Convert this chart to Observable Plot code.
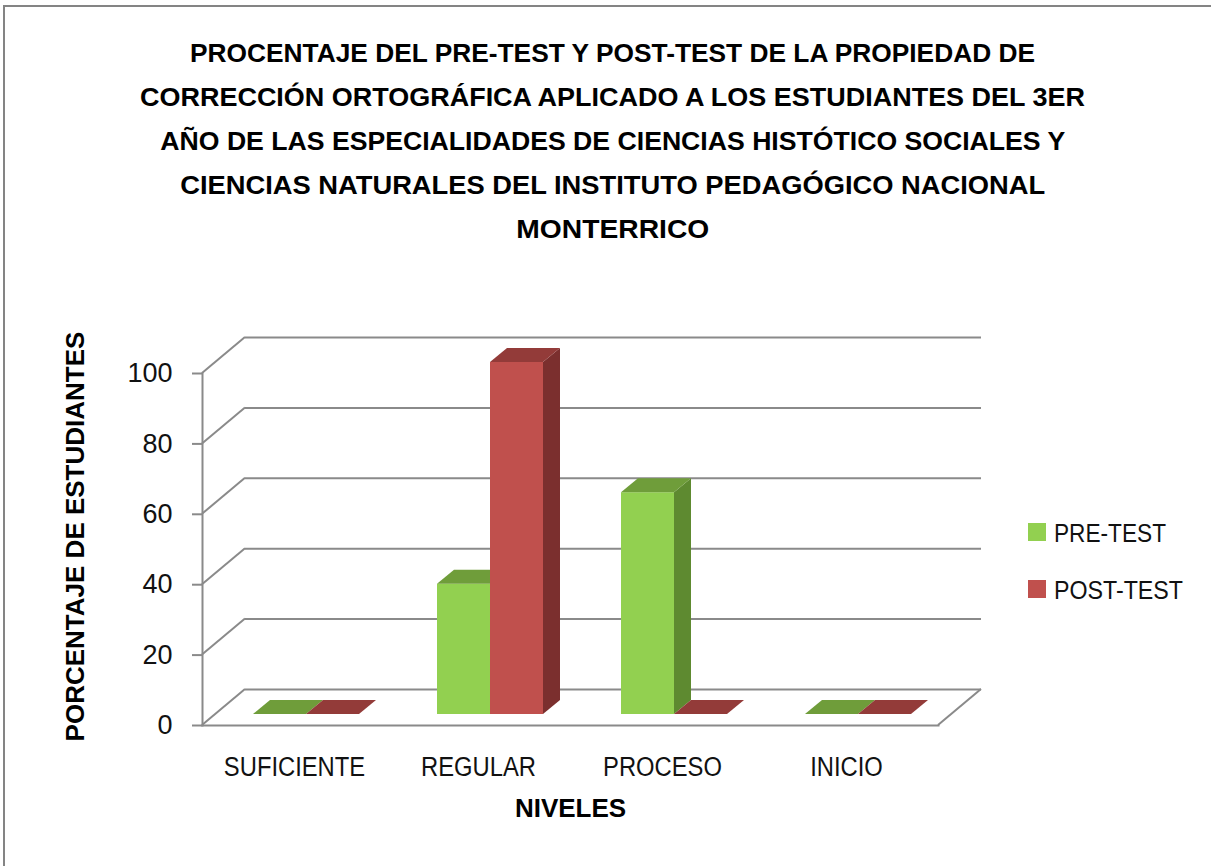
<!DOCTYPE html>
<html>
<head>
<meta charset="utf-8">
<script src="https://cdn.jsdelivr.net/npm/d3@7"></script>
<script src="https://cdn.jsdelivr.net/npm/@observablehq/plot@0.6"></script>
<style>
  html, body { margin: 0; padding: 0; background: #fff; }
  #wrap { position: relative; width: 1211px; height: 866px; overflow: hidden; font-family: "Liberation Sans", Arial, sans-serif; color: #111; }
  #border { position: absolute; left: 3px; top: 5px; width: 1400px; height: 1000px; border-top: 2px solid #848484; border-left: 2px solid #848484; }
  #title { position: absolute; left: 0; top: 31px; width: 1226px; text-align: center; font-weight: bold; font-size: 26px; line-height: 44px; color: #000; }
  #title div { white-space: nowrap; }
  #title span { display: inline-block; transform-origin: 50% 50%; }
  #chart { position: absolute; left: 0; top: 0; }
  .leg { position: absolute; left: 1028px; height: 26px; white-space: nowrap; }
  .leg i { position: absolute; left: 0; top: 3px; width: 18px; height: 18px; }
  .leg span { position: absolute; left: 26px; top: 0; font-size: 26px; line-height: 26px; display: inline-block; transform-origin: 0 50%; color: #111; }
</style>
</head>
<body>
<div id="wrap">
  <div id="border"></div>
  <div id="title"></div>
  <div id="chart"></div>
  <div id="legend"></div>
</div>
<script>
// ---- data ----
const titleLines = [
  "PROCENTAJE DEL PRE-TEST Y POST-TEST DE LA PROPIEDAD DE",
  "CORRECCIÓN ORTOGRÁFICA APLICADO A LOS ESTUDIANTES DEL 3ER",
  "AÑO DE LAS ESPECIALIDADES DE CIENCIAS HISTÓTICO SOCIALES Y",
  "CIENCIAS NATURALES DEL INSTITUTO PEDAGÓGICO NACIONAL",
  "MONTERRICO"
];
const categories = ["SUFICIENTE", "REGULAR", "PROCESO", "INICIO"];
const seriesNames = ["PRE-TEST", "POST-TEST"];
const preTest = [0, 37, 63, 0];
const postTest = [0, 100, 0, 0];
const yTicks = [0, 20, 40, 60, 80, 100];
const xLabel = "NIVELES";
const yLabel = "PORCENTAJE DE ESTUDIANTES";

// ---- styling ----
const colors = {
  pre:  {front: "#92D050", top: "#6F9D3A", side: "#5E8A30"},
  post: {front: "#C0504D", top: "#933B39", side: "#7B2F2E"}
};
const gridColor = "#8A8A8A";
const DX = 43, DY = -36;   // wall depth offset
const BDX = 17, BDY = -14; // bar depth offset
const svgns = "http://www.w3.org/2000/svg";

const preData = categories.map((c, i) => ({cat: c, v: preTest[i]}));
const postData = categories.map((c, i) => ({cat: c, v: postTest[i]}));

// title
const titleEl = document.getElementById("title");
const titleWidths = [845, 945, 905, 865, 193];
titleLines.forEach(t => {
  const d = document.createElement("div");
  const s = document.createElement("span");
  s.textContent = t;
  d.appendChild(s);
  titleEl.appendChild(d);
});

// legend
const legendEl = document.getElementById("legend");
const legendTops = [520, 577];
seriesNames.forEach((n, i) => {
  const d = document.createElement("div");
  d.className = "leg";
  d.style.top = legendTops[i] + "px";
  const sw = document.createElement("i");
  sw.style.background = i === 0 ? colors.pre.front : colors.post.front;
  const s = document.createElement("span");
  s.textContent = n;
  d.appendChild(sw); d.appendChild(s);
  legendEl.appendChild(d);
});

function faces(c) {
  return function(index, scales, values, dimensions, context, next) {
    const g = next(index, scales, values, dimensions, context);
    const rects = Array.from(g.querySelectorAll("rect"));
    for (const r of rects) {
      const x = +r.getAttribute("x"), y = +r.getAttribute("y");
      const w = +r.getAttribute("width"), h = +r.getAttribute("height");
      const side = document.createElementNS(svgns, "polygon");
      side.setAttribute("points", `${x+w},${y} ${x+w+BDX},${y+BDY} ${x+w+BDX},${y+h+BDY} ${x+w},${y+h}`);
      side.setAttribute("fill", c.side);
      const top = document.createElementNS(svgns, "polygon");
      top.setAttribute("points", `${x},${y} ${x+w},${y} ${x+w+BDX},${y+BDY} ${x+BDX},${y+BDY}`);
      top.setAttribute("fill", c.top);
      g.appendChild(side);
      g.appendChild(top);
    }
    return g;
  };
}

function diagonals(index, scales, values, dimensions) {
  const {marginLeft, width, marginRight} = dimensions;
  const g = document.createElementNS(svgns, "g");
  g.setAttribute("stroke", gridColor);
  g.setAttribute("stroke-width", 2);
  g.setAttribute("fill", "none");
  const add = (x, y) => {
    const p = document.createElementNS(svgns, "path");
    p.setAttribute("d", `M${x},${y}L${x+DX},${y+DY}`);
    g.appendChild(p);
  };
  for (const t of yTicks) add(marginLeft, scales.y(t));
  add(width - marginRight, scales.y(0));
  return g;
}

const plot = Plot.plot({
  width: 1211,
  height: 866,
  marginLeft: 202,
  marginRight: 273,
  marginTop: 373,
  marginBottom: 141,
  style: {fontFamily: '"Liberation Sans", Arial, sans-serif', background: "transparent", overflow: "visible"},
  x: {domain: categories, padding: 0},
  y: {domain: [0, 100]},
  marks: [
    Plot.ruleY(yTicks, {dx: DX, dy: DY, stroke: gridColor, strokeWidth: 2}),
    diagonals,
    Plot.frame({anchor: "left", stroke: gridColor, strokeWidth: 2}),
    Plot.frame({anchor: "bottom", stroke: gridColor, strokeWidth: 2}),
    Plot.axisY({ticks: yTicks, tickSize: 10, tickPadding: 20, fontSize: 27, stroke: gridColor, strokeWidth: 2, fill: "#111", label: null}),
    Plot.axisX({tickSize: 0, tickPadding: 31, fontSize: 27, fill: "#111", label: null}),
    Plot.barY(preData, {x: "cat", y: "v", fill: colors.pre.front, insetLeft: 39, insetRight: 92, dx: 12, dy: -11, render: faces(colors.pre)}),
    Plot.barY(postData, {x: "cat", y: "v", fill: colors.post.front, insetLeft: 92, insetRight: 39, dx: 12, dy: -11, render: faces(colors.post)}),
    Plot.text([xLabel], {frameAnchor: "bottom", dy: 91, text: d => d, fontSize: 26, fontWeight: "bold", fill: "#000", ariaLabel: "xlabel"}),
    Plot.text([yLabel], {frameAnchor: "left", textAnchor: "middle", dx: -127, dy: -13, rotate: -90, text: d => d, fontSize: 26, fontWeight: "bold", fill: "#000", ariaLabel: "ylabel"})
  ]
});
document.getElementById("chart").appendChild(plot);

// condense text horizontally (narrow typeface look)
function condense(sel, f) {
  for (const t of plot.querySelectorAll(sel)) {
    const L = t.getComputedTextLength();
    t.setAttribute("textLength", L * f);
    t.setAttribute("lengthAdjust", "spacingAndGlyphs");
  }
}
condense('g[aria-label="x-axis tick label"] text', 0.88);
condense('g[aria-label="xlabel"] text', 0.88);

// fit title lines
Array.from(titleEl.querySelectorAll("span")).forEach((s, i) => {
  const w = s.getBoundingClientRect().width;
  s.style.transform = `scaleX(${titleWidths[i] / w})`;
});
// legend text widths
const legWidths = [112, 129];
Array.from(legendEl.querySelectorAll("span")).forEach((s, i) => {
  const w = s.getBoundingClientRect().width;
  s.style.transform = `scaleX(${legWidths[i] / w})`;
});
</script>
</body>
</html>
